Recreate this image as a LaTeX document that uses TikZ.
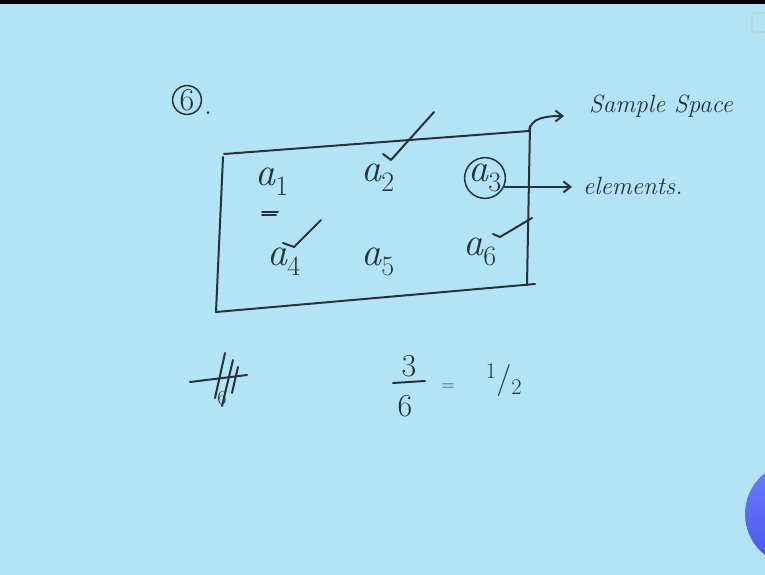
\documentclass[tikz,border=0pt]{standalone}
\usepackage{fontspec}
\usepackage{tikz}
\usetikzlibrary{positioning,arrows.meta,calc}
\definecolor{board}{RGB}{178,228,245}
\definecolor{ink}{RGB}{40,50,58}
\definecolor{dotlight}{RGB}{110,125,255}
\definecolor{dotdark}{RGB}{75,85,235}
\tikzset{
  pen/.style={draw=ink,line width=2pt,line cap=round,line join=round},
  elem/.style={text=ink,inner sep=1pt,font=\fontsize{40}{44}\selectfont\itshape},
  digit/.style={text=ink,inner sep=1pt,font=\fontsize{32}{36}\selectfont},
  note/.style={text=ink,inner sep=1pt,font=\fontsize{25}{28}\selectfont\itshape},
  tip/.style={-{Straight Barb[length=7pt,width=11pt]}},
}
\newcommand{\elm}[1]{a\textsubscript{\upshape#1}}

\begin{document}
\begin{tikzpicture}[x=1pt,y=-1pt]
  \useasboundingbox (0,0) rectangle (765,575);
  \clip (0,0) rectangle (765,575);
  \fill[board] (0,0) rectangle (765,575);
  \fill[black] (0,0) rectangle (765,4);
  \draw[ink!25,line width=1.2pt,rounded corners=2pt] (752,13) rectangle (772,32);
  \shade[top color=dotlight,bottom color=dotdark] (797,514) circle (52);

  % question number
  \node[digit,circle,draw=ink,line width=1.5pt,inner sep=1pt] (num) at (187,100) {6};
  \node[digit] (numdot) at (208,113) {.};

  % sample space box
  \coordinate (tl) at (224,154);
  \coordinate (tr) at (529,131);
  \coordinate (br) at (535,284);
  \coordinate (bl) at (216,312);
  \draw[pen] (tl) -- (tr);
  \draw[pen] (530,126) -- (527,285);
  \draw[pen] (br) -- (bl);
  \draw[pen] (223,157) -- (bl);

  % elements
  \node[elem] (a1) at (272,182) {\elm{1}};
  \node[elem] (a2) at (378,178) {\elm{2}};
  \node[elem,circle,draw=ink,line width=1.5pt,inner sep=-1pt] (a3) at (485,178) {\elm{3}};
  \node[elem] (a4) at (284,262) {\elm{4}};
  \node[elem] (a5) at (378,262) {\elm{5}};
  \node[elem] (a6) at (480,252) {\elm{6}};
  \draw[pen] (262,212) -- (278,212);
  \draw[pen] (262,215) -- (276,215);

  % ticks
  \draw[pen] (383,154) -- (391,160) -- (434,112);
  \draw[pen] (283,243) -- (294,247) -- (321,220);
  \draw[pen] (493,234) -- (500,237) -- (532,218);

  % labels on the right
  \node[note,anchor=west] (samplespace) at (588,106) {Sample Space};
  \node[note,anchor=west] (elements) at (582,186) {elements.};
  \draw[pen,tip,shorten >=24pt] (tr) .. controls (531,118) and (545,116) .. (samplespace.west |- 0,116);
  \draw[pen,tip,shorten >=10pt] (a3.-25) -- (a3.-25 -| elements.west);

  % answer
  \draw[pen] (190,382) -- (247,375);
  \draw[pen] (225,353) -- (215,398);
  \draw[pen] (233,360) -- (222,406);
  \draw[pen] (238,367) -- (232,393);
  \node[text=ink,font=\fontsize{20}{22}\selectfont] (hashsix) at (222,398) {6};

  \node[digit] (three) at (409,366) {3};
  \node[digit] (six) at (405,406) {6};
  \draw[pen] (393,383) -- (425,381);
  \node[text=ink,font=\fontsize{18}{20}\selectfont] (eq) at (448,387) {=};
  \node[digit] (half) at (504,380) {\textsuperscript{1}/\textsubscript{2}};
\end{tikzpicture}
\end{document}
